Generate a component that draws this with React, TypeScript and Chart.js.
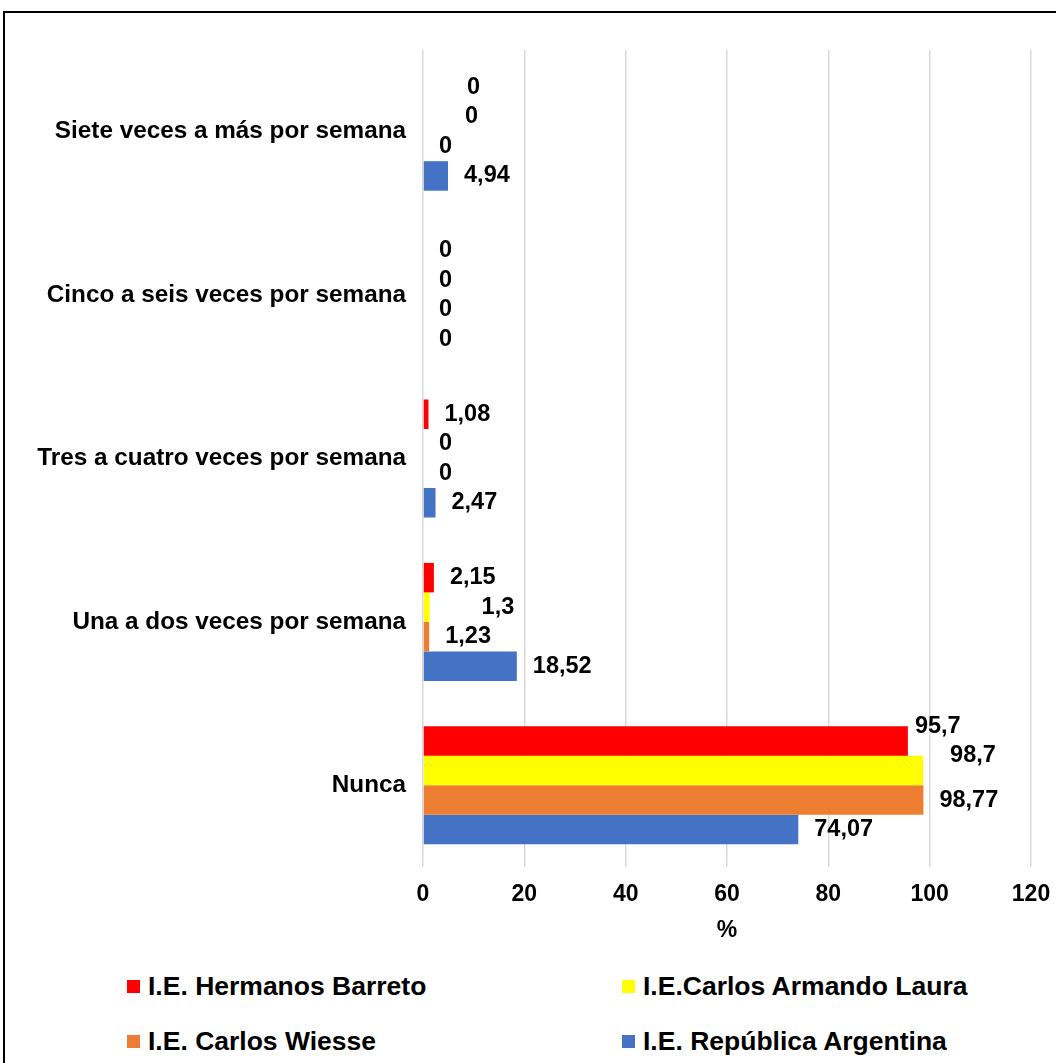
import React, { useEffect, useRef } from "react";
import { Chart, registerables } from "chart.js";

Chart.register(...registerables);

const categories = [
  "Siete veces a más por semana",
  "Cinco a seis veces por semana",
  "Tres a cuatro veces por semana",
  "Una a dos veces por semana",
  "Nunca",
];

const seriesNames = [
  "I.E. Hermanos Barreto",
  "I.E.Carlos Armando Laura",
  "I.E. Carlos Wiesse",
  "I.E. República Argentina",
];

const hermanosBarreto = [0, 0, 1.08, 2.15, 95.7];
const carlosArmandoLaura = [0, 0, 0, 1.3, 98.7];
const carlosWiesse = [0, 0, 0, 1.23, 98.77];
const republicaArgentina = [4.94, 0, 2.47, 18.52, 74.07];

const seriesColors = ["#FF0000", "#FFFF00", "#ED7D31", "#4472C4"];

const xTicks = [0, 20, 40, 60, 80, 100, 120];

// small manual label nudges (like the hand-moved labels in the original)
const labelNudges: Record<string, { dx: number; dy: number }> = {
  "0-0": { dx: 28, dy: 0 },
  "1-0": { dx: 26, dy: 0 },
  "1-3": { dx: 36, dy: 0 },
  "0-4": { dx: -9, dy: -15 },
  "1-4": { dx: 11, dy: -15 },
};

const FONT = "'Liberation Sans', Arial, Helvetica, sans-serif";

const valueLabelPlugin = {
  id: "valueLabels",
  afterDatasetsDraw(chart: any) {
    const ctx = chart.ctx;
    ctx.save();
    ctx.font = `bold 23.5px ${FONT}`;
    ctx.fillStyle = "#000";
    ctx.textAlign = "left";
    ctx.textBaseline = "middle";
    chart.data.datasets.forEach((ds: any, di: number) => {
      const meta = chart.getDatasetMeta(di);
      meta.data.forEach((el: any, i: number) => {
        const v = ds.data[i];
        const n = labelNudges[`${di}-${i}`] || { dx: 0, dy: 0 };
        const txt = String(v).replace(".", ",");
        ctx.fillText(txt, el.x + 16 + n.dx, el.y + n.dy);
      });
    });
    ctx.restore();
  },
};

export default function App() {
  const ref = useRef<HTMLCanvasElement | null>(null);

  useEffect(() => {
    if (!ref.current) return;
    const seriesData = [hermanosBarreto, carlosArmandoLaura, carlosWiesse, republicaArgentina];
    const chart = new Chart(ref.current, {
      type: "bar",
      data: {
        labels: categories,
        datasets: seriesNames.map((name, i) => ({
          label: name,
          data: seriesData[i],
          backgroundColor: seriesColors[i],
          borderWidth: 0,
          barPercentage: 1,
          categoryPercentage: 0.722,
        })),
      },
      options: {
        indexAxis: "y",
        responsive: false,
        animation: false,
        maintainAspectRatio: false,
        layout: { padding: { top: 50, right: 25, left: 0, bottom: 0 } },
        plugins: {
          legend: { display: false },
          tooltip: { enabled: false },
        },
        scales: {
          x: {
            min: 0,
            max: 120,
            afterBuildTicks: (axis: any) => {
              axis.ticks = xTicks.map((v) => ({ value: v }));
            },
            afterFit: (axis: any) => {
              axis.height = 85;
              axis.paddingRight = 0;
              axis.paddingLeft = 0;
            },
            grid: { color: "#d9d9d9", lineWidth: 1.5, drawTicks: false },
            border: { display: false },
            ticks: {
              padding: 14,
              color: "#000",
              font: { family: FONT, size: 23, weight: "bold" },
            },
            title: {
              display: true,
              text: "%",
              color: "#000",
              font: { family: FONT, size: 23, weight: "bold" },
              padding: { top: 0, bottom: 8 },
            },
          },
          y: {
            afterFit: (axis: any) => {
              axis.width = 423;
            },
            grid: { display: false, drawTicks: false },
            border: { display: false },
            ticks: {
              padding: 17,
              color: "#000",
              font: { family: FONT, size: 24.3, weight: "bold" },
            },
          },
        },
      },
      plugins: [valueLabelPlugin],
    } as any);
    return () => chart.destroy();
  }, []);

  const legendPos = [
    { left: 127, top: 986 },
    { left: 622, top: 986 },
    { left: 127, top: 1041 },
    { left: 622, top: 1041 },
  ];

  return (
    <div
      style={{
        position: "fixed",
        left: 0,
        top: 0,
        width: 1056,
        height: 1063,
        background: "#fff",
        overflow: "hidden",
      }}
    >
      <div
        style={{
          position: "absolute",
          left: 3,
          top: 11,
          width: 1100,
          height: 1100,
          border: "2px solid #000",
        }}
      />
      <canvas
        ref={ref}
        width={1056}
        height={952}
        style={{ position: "absolute", left: 0, top: 0, width: 1056, height: 952 }}
      />
      {seriesNames.map((name, i) => (
        <div
          key={name}
          style={{
            position: "absolute",
            left: legendPos[i].left,
            top: legendPos[i].top - 15,
            height: 30,
            display: "flex",
            alignItems: "center",
            fontFamily: FONT,
            fontWeight: "bold",
            fontSize: 26.5,
            color: "#000",
            whiteSpace: "nowrap",
          }}
        >
          <span
            style={{
              display: "inline-block",
              width: 13,
              height: 13,
              background: seriesColors[i],
              marginRight: 8,
            }}
          />
          <span>{name}</span>
        </div>
      ))}
    </div>
  );
}
